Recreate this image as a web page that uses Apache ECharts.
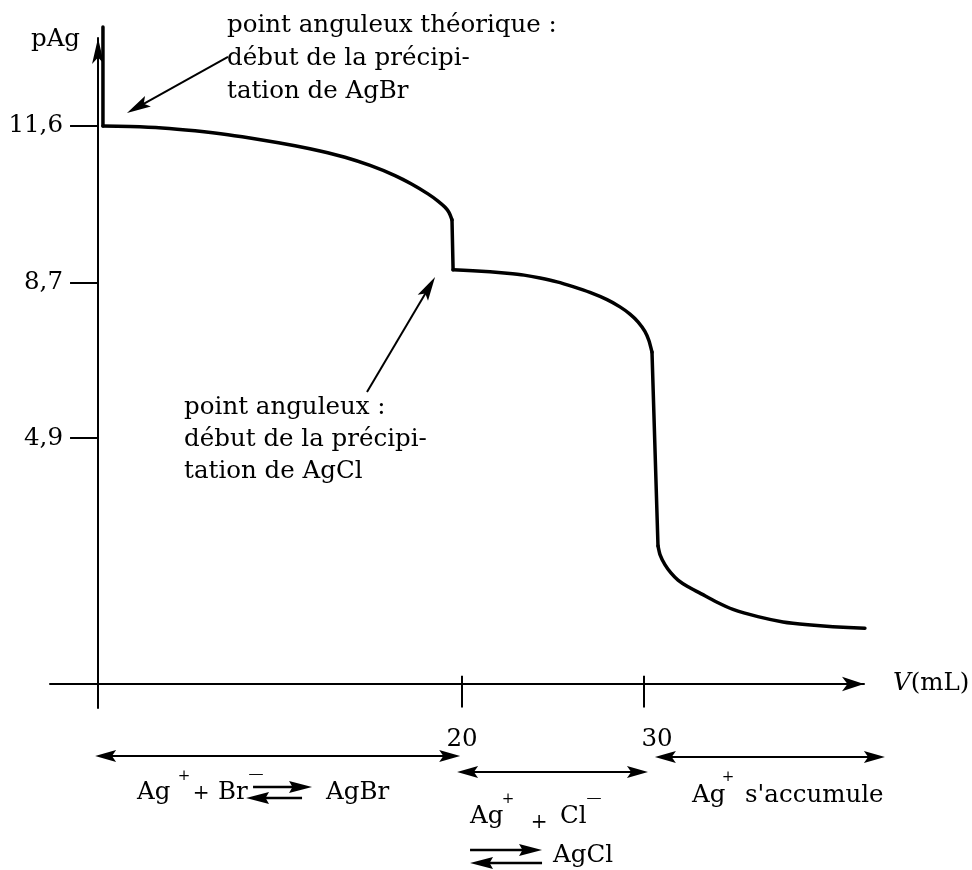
<!DOCTYPE html>
<html><head><meta charset="utf-8">
<script src="https://cdn.jsdelivr.net/npm/echarts@6/dist/echarts.min.js"></script>
<style>html,body{margin:0;padding:0;background:#fff}#c{width:972px;height:870px}</style>
</head><body><div id="c"></div>
<script>
// x: added volume V (mL); y: pAg on the sketch's schematic scale
const spike    = [[0.27, 13.66], [0.27, 11.60]];
const branchBr = [[0.27, 11.60], [1.76, 11.59], [3.52, 11.56], [5.33, 11.50], [7.14, 11.42], [9.01, 11.31], [10.82, 11.19], [12.20, 11.08], [13.57, 10.95], [14.95, 10.78], [16.32, 10.57], [17.25, 10.39], [18.13, 10.19], [18.68, 10.04], [19.07, 9.91], [19.29, 9.80], [19.45, 9.65]];
const jumpBr   = [[19.45, 9.65], [19.51, 8.61]];
const branchCl = [[19.51, 8.61], [20.60, 8.59], [21.54, 8.57], [22.47, 8.54], [23.41, 8.50], [24.29, 8.44], [25.22, 8.36], [26.10, 8.26], [27.03, 8.14], [27.97, 7.99], [28.68, 7.84], [29.23, 7.69], [29.67, 7.53], [30.05, 7.33], [30.27, 7.14], [30.44, 6.90]];
const dropCl   = [[30.44, 6.90], [30.77, 2.87]];
const branchAg = [[30.77, 2.87], [30.88, 2.69], [31.15, 2.48], [31.48, 2.31], [31.87, 2.16], [32.42, 2.02], [33.08, 1.89], [33.96, 1.71], [34.89, 1.55], [36.26, 1.40], [37.64, 1.29], [39.01, 1.23], [40.38, 1.19], [42.14, 1.16]];

const xTickValues = [20, 30];
const xTickLabels = ['20', '30'];
const yTickValues = [5.11, 8.34, 11.6];
const yTickLabels = ['4,9', '8,7', '11,6'];

// annotation anchors (data coordinates)
const note1Text = ['point anguleux théorique :', 'début de la précipi-', 'tation de AgBr'];
const note1At = [7.09, 13.01];
const note1Arrow = [[7.14, 13.04], [1.59, 11.87]];
const note2Text = ['point anguleux :', 'début de la précipi-', 'tation de AgCl'];
const note2At = [4.73, 5.09];
const note2Arrow = [[14.78, 6.07], [18.52, 8.46]];
// domains along V for the bottom double arrows
const domains = [[-0.16, 19.9], [19.73, 30.22], [30.6, 43.24]];

const FONT = '"DejaVu Serif", serif';
const FS = 24.5;
const BLACK = '#000';

function lineSeries(data, smooth, extra) {
  return Object.assign({
    type: 'line', data: data, symbol: 'none', smooth: smooth, clip: false, silent: true,
    lineStyle: { color: BLACK, width: 3.5, cap: 'round', join: 'round' }
  }, extra || {});
}

const tickMarks = xTickValues.map(v => [{ coord: [v, 0.17] }, { coord: [v, -0.49] }]);

const option = {
  animation: false,
  backgroundColor: '#fff',
  grid: { left: 50, right: 108, top: 38, bottom: 162, outerBoundsMode: 'none' },
  xAxis: {
    type: 'value', min: -2.64, max: 42.09,
    splitLine: { show: false },
    axisLine: { onZero: true, lineStyle: { color: BLACK, width: 2 }, symbol: ['none', 'arrow'], symbolSize: [11, 22] },
    axisTick: { show: false },
    axisLabel: {
      customValues: xTickValues,
      formatter: v => { const i = xTickValues.indexOf(v); return i === 0 ? '{a|' + xTickLabels[i] + '}' : '{b|' + xTickLabels[i] + '}'; },
      margin: 19, color: BLACK, fontSize: FS, fontFamily: FONT,
      rich: { a: { fontSize: FS, fontFamily: FONT, color: BLACK }, b: { fontSize: FS, fontFamily: FONT, color: BLACK, padding: [0, 0, 0, 26] } }
    },
    name: '{i|V}{n|(mL)}', nameLocation: 'end', nameGap: 29,
    nameTextStyle: {
      align: 'left', verticalAlign: 'middle',
      rich: { i: { fontStyle: 'italic', fontSize: FS, fontFamily: FONT, color: BLACK }, n: { fontSize: FS, fontFamily: FONT, color: BLACK } }
    }
  },
  yAxis: {
    type: 'value', min: -0.499, max: 13.43,
    splitLine: { show: false },
    axisLine: { onZero: true, lineStyle: { color: BLACK, width: 2 }, symbol: ['none', 'arrow'], symbolSize: [9, 26] },
    axisTick: { show: true, customValues: yTickValues, length: 28, lineStyle: { color: BLACK, width: 2 } },
    axisLabel: {
      customValues: yTickValues,
      formatter: v => { let k = 0; yTickValues.forEach((t, i) => { if (Math.abs(t - v) < 1e-6) k = i; }); return yTickLabels[k]; },
      margin: -13, color: BLACK, fontSize: FS, fontFamily: FONT
    },
    name: 'pAg', nameLocation: 'end', nameGap: -2,
    nameTextStyle: { align: 'right', verticalAlign: 'middle', padding: [0, 18, 0, 0], color: BLACK, fontSize: FS, fontFamily: FONT }
  },
  series: [
    lineSeries(spike, false, {
      markLine: { silent: true, symbol: ['none', 'none'], label: { show: false }, lineStyle: { color: BLACK, width: 2, type: 'solid' }, emphasis: { disabled: true }, data: tickMarks }
    }),
    lineSeries(branchBr, 0.2),
    lineSeries(jumpBr, false),
    lineSeries(branchCl, 0.2),
    lineSeries(dropCl, false),
    lineSeries(branchAg, 0.2)
  ]
};

const chart = echarts.init(document.getElementById('c'), null, { renderer: 'canvas' });
chart.setOption(option);

function px(p) { return chart.convertToPixel({ gridIndex: 0 }, p); }

function arrowHead(tx, ty, ux, uy, len, half, notch) {
  const nx = -uy, ny = ux;
  const bx = tx - ux * len, by = ty - uy * len;
  const mx = tx - ux * len * notch, my = ty - uy * len * notch;
  return { type: 'polygon', silent: true, shape: { points: [[tx, ty], [bx + nx * half, by + ny * half], [mx, my], [bx - nx * half, by - ny * half]] }, style: { fill: BLACK } };
}
function arrow(a, b, o) {
  o = Object.assign({ len: 20, half: 5, width: 2, both: false, notch: 0.8 }, o || {});
  const dx = b[0] - a[0], dy = b[1] - a[1], L = Math.hypot(dx, dy), ux = dx / L, uy = dy / L;
  const s0 = o.both ? [a[0] + ux * o.len * 0.6, a[1] + uy * o.len * 0.6] : a;
  const s1 = [b[0] - ux * o.len * 0.6, b[1] - uy * o.len * 0.6];
  const els = [{ type: 'line', silent: true, shape: { x1: s0[0], y1: s0[1], x2: s1[0], y2: s1[1] }, style: { stroke: BLACK, lineWidth: o.width } }];
  els.push(arrowHead(b[0], b[1], ux, uy, o.len, o.half, o.notch));
  if (o.both) els.push(arrowHead(a[0], a[1], -ux, -uy, o.len, o.half, o.notch));
  return els;
}
function text(str, x, y, size, opt) {
  opt = opt || {};
  return { type: 'text', silent: true, x: x, y: y, style: Object.assign({ text: str, fill: BLACK, fontSize: size, fontFamily: FONT, align: 'left', verticalAlign: 'middle' }, opt) };
}

const O = px([0, 0]);
const g = [];
// upper annotations
const n1 = px(note1At);
g.push(text(note1Text.join('\n'), n1[0], n1[1], FS, { lineHeight: 33 }));
g.push(...arrow(px(note1Arrow[0]), px(note1Arrow[1]), { len: 24, half: 6 }));
const n2 = px(note2At);
g.push(text(note2Text.join('\n'), n2[0], n2[1], FS, { lineHeight: 32 }));
g.push(...arrow(px(note2Arrow[0]), px(note2Arrow[1]), { len: 24, half: 6 }));

// domain double arrows below the axis
const dy = [72, 88, 73];
domains.forEach((d, i) => {
  const a = px([d[0], 0]), b = px([d[1], 0]);
  g.push(...arrow([a[0], O[1] + dy[i]], [b[0], O[1] + dy[i]], { len: 21, half: 6, both: true }));
});

// equation 1 : Ag+ + Br-  <=>  AgBr
const e1 = O[1] + 109;
const eqA = { len: 23, half: 6, width: 2.5, notch: 0.85 };
g.push(text('Ag', O[0] + 39, e1, FS));
g.push(text('+', O[0] + 86, e1 - 17, 15, { align: 'center' }));
g.push(text('+', O[0] + 103, e1 + 1, 20, { align: 'center' }));
g.push(text('Br', O[0] + 120, e1, FS));
g.push(text('—', O[0] + 158, e1 - 19, 15, { align: 'center' }));
g.push(...arrow([O[0] + 155, e1 - 6], [O[0] + 214, e1 - 6], eqA));
g.push(...arrow([O[0] + 204, e1 + 5], [O[0] + 148, e1 + 5], eqA));
g.push(text('AgBr', O[0] + 228, e1, FS));

// equation 2 : Ag+ + Cl-  <=>  AgCl
const e2 = O[1] + 133;
g.push(text('Ag', O[0] + 372, e2, FS));
g.push(text('+', O[0] + 410, e2 - 18, 15, { align: 'center' }));
g.push(text('+', O[0] + 441, e2 + 6, 20, { align: 'center' }));
g.push(text('Cl', O[0] + 462, e2, FS));
g.push(text('—', O[0] + 496, e2 - 19, 15, { align: 'center' }));
const e2b = O[1] + 172;
g.push(...arrow([O[0] + 372, e2b - 6], [O[0] + 444, e2b - 6], eqA));
g.push(...arrow([O[0] + 444, e2b + 7], [O[0] + 372, e2b + 7], eqA));
g.push(text('AgCl', O[0] + 455, e2b, FS));

// equation 3 : Ag+ s'accumule
const e3 = O[1] + 112;
g.push(text('Ag', O[0] + 594, e3, FS));
g.push(text('+', O[0] + 630, e3 - 19, 15, { align: 'center' }));
g.push(text("s'accumule", O[0] + 647, e3, FS));

chart.setOption({ graphic: { elements: g } });
</script>
</body></html>
